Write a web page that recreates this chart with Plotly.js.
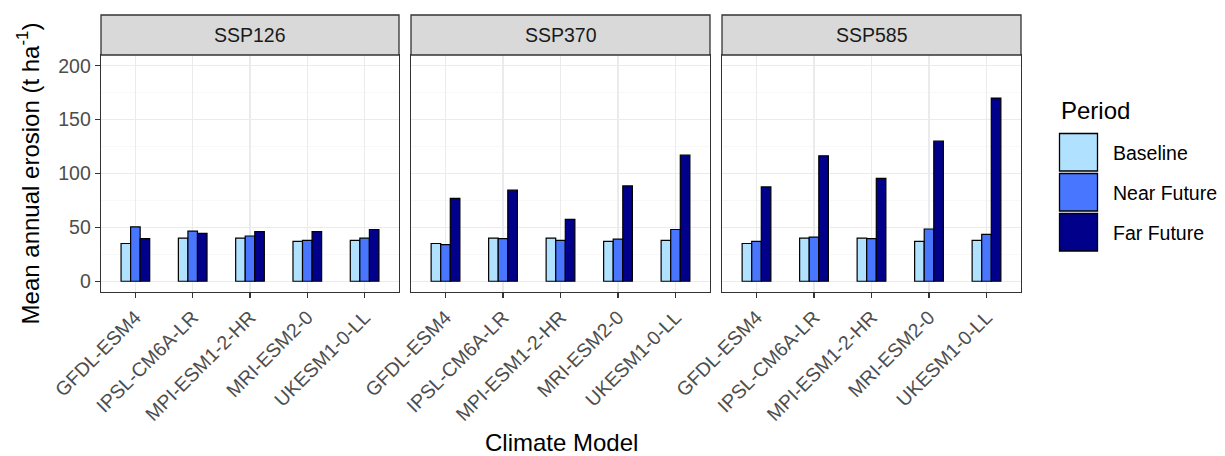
<!DOCTYPE html>
<html>
<head>
<meta charset="utf-8">
<script src="https://cdn.plot.ly/plotly-3.0.1.min.js"></script>
<style>html,body{margin:0;padding:0;background:#fff;}#chart{width:1225px;height:456px;}</style>
</head>
<body>
<div id="chart"></div>
<script>
// ---- data ----
const models = ['GFDL-ESM4','IPSL-CM6A-LR','MPI-ESM1-2-HR','MRI-ESM2-0','UKESM1-0-LL'];
const scenarios = ['SSP126','SSP370','SSP585'];
const periods = ['Baseline','Near Future','Far Future'];
const baseline = [35, 40, 40, 37, 38];
const ssp126Near = [50.5, 46.5, 42, 38, 40];
const ssp126Far  = [39.5, 44.5, 46, 46, 48];
const ssp370Near = [34, 39.5, 38, 39, 48];
const ssp370Far  = [77, 84.5, 57.5, 88.5, 117];
const ssp585Near = [37, 41, 39.5, 48.5, 43.5];
const ssp585Far  = [87.5, 116.5, 95.5, 130, 170];
const yTicks = [0, 50, 100, 150, 200];

const colors = ['#B0E2FF', '#4876FF', '#00008B'];
const seriesByScenario = [
  [baseline, ssp126Near, ssp126Far],
  [baseline, ssp370Near, ssp370Far],
  [baseline, ssp585Near, ssp585Far]
];

// ---- layout geometry (pixels) ----
const W = 1225, H = 456;
const mL = 101, mR = 204, mT = 55, mB = 164;
const pw = W - mL - mR, ph = H - mT - mB;
const px2x = p => (p - mL) / pw;
const px2y = p => (H - mB - p) / ph;
const domains = [[0, px2x(399)], [px2x(411), px2x(710)], [px2x(722), 1]];

const traces = [];
seriesByScenario.forEach((ser, si) => {
  ser.forEach((vals, pi) => {
    traces.push({
      type: 'bar',
      x: models,
      y: vals,
      name: periods[pi],
      xaxis: si === 0 ? 'x' : 'x' + (si + 1),
      yaxis: si === 0 ? 'y' : 'y' + (si + 1),
      marker: {color: colors[pi], line: {color: '#000000', width: 1.2}},
      showlegend: false,
      hoverinfo: 'x+y+name'
    });
  });
});

const tickFont = {family: 'Liberation Sans, Arial, sans-serif', size: 19.5, color: '#4D4D4D'};
const layout = {
  width: W, height: H,
  margin: {l: mL, r: mR, t: mT, b: mB, pad: 0},
  paper_bgcolor: '#ffffff', plot_bgcolor: '#ffffff',
  barmode: 'group', bargap: 0.5, bargroupgap: 0,
  showlegend: false,
  font: {family: 'Liberation Sans, Arial, sans-serif', color: '#000000'},
  shapes: [], annotations: []
};

scenarios.forEach((sc, i) => {
  const xk = i === 0 ? 'xaxis' : 'xaxis' + (i + 1);
  const yk = i === 0 ? 'yaxis' : 'yaxis' + (i + 1);
  const xid = i === 0 ? 'x' : 'x' + (i + 1);
  const yid = i === 0 ? 'y' : 'y' + (i + 1);
  layout[xk] = {
    domain: domains[i], anchor: yid, type: 'category',
    categoryorder: 'array', categoryarray: models,
    range: [-0.6, 4.6], tickangle: -45, tickfont: tickFont,
    ticks: 'outside', ticklen: 5, tickwidth: 1.1, tickcolor: '#333333',
    showgrid: true, gridcolor: '#EBEBEB', gridwidth: 1.1,
    showline: true, linecolor: '#333333', linewidth: 1.3, mirror: true,
    zeroline: false, fixedrange: true
  };
  layout[yk] = {
    domain: [0, 1], anchor: xid, range: [-10, 210],
    tickvals: yTicks, ticktext: yTicks.map(String),
    showticklabels: i === 0, tickfont: tickFont,
    ticks: i === 0 ? 'outside' : '', ticklen: 5, tickwidth: 1.1, tickcolor: '#333333',
    showgrid: true, gridcolor: '#EBEBEB', gridwidth: 1.1,
    minor: {dtick: 25, tick0: 0, showgrid: true, gridcolor: '#F3F3F3', gridwidth: 0.6, ticks: ''},
    showline: true, linecolor: '#333333', linewidth: 1.3, mirror: true,
    zeroline: false, fixedrange: true
  };
  if (i === 0) {
    layout[yk].title = {text: 'Mean annual erosion (t ha<sup>-1</sup>)', font: {size: 24, color: '#000000'}, standoff: 12};
  }
  // strip
  layout.shapes.push({
    type: 'rect', xref: 'paper', yref: 'paper',
    x0: domains[i][0], x1: domains[i][1], y0: 1, y1: px2y(15),
    fillcolor: '#D9D9D9', line: {color: '#333333', width: 1.3}, layer: 'above'
  });
  layout.annotations.push({
    xref: 'paper', yref: 'paper', x: (domains[i][0] + domains[i][1]) / 2, y: px2y(35),
    xanchor: 'center', yanchor: 'middle', showarrow: false,
    text: sc, font: {size: 19.5, color: '#1A1A1A'}
  });
});

// x-axis title
layout.annotations.push({
  xref: 'paper', yref: 'paper', x: 0.5, y: px2y(442), xanchor: 'center', yanchor: 'middle',
  showarrow: false, text: 'Climate Model', font: {size: 24, color: '#000000'}
});

// legend (manual, large keys as in the reference)
layout.annotations.push({
  xref: 'paper', yref: 'paper', x: px2x(1059), y: px2y(110), xanchor: 'left', yanchor: 'middle',
  showarrow: false, text: 'Period', font: {size: 24, color: '#000000'}
});
const keyTops = [133.5, 173.5, 213.5];
periods.forEach((p, k) => {
  layout.shapes.push({
    type: 'rect', xref: 'paper', yref: 'paper',
    x0: px2x(1059.5), x1: px2x(1097.5), y0: px2y(keyTops[k]), y1: px2y(keyTops[k] + 37.5),
    fillcolor: colors[k], line: {color: '#000000', width: 1.3}
  });
  layout.annotations.push({
    xref: 'paper', yref: 'paper', x: px2x(1111), y: px2y(keyTops[k] + 19), xanchor: 'left', yanchor: 'middle',
    showarrow: false, text: p, font: {size: 19.5, color: '#000000'}
  });
});

Plotly.newPlot('chart', traces, layout, {displayModeBar: false, staticPlot: true});
</script>
</body>
</html>
